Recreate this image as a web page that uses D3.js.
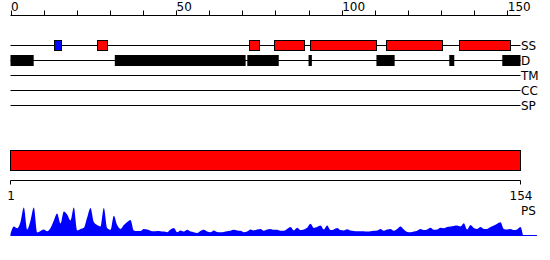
<!DOCTYPE html>
<html>
<head>
<meta charset="utf-8">
<script src="https://cdn.jsdelivr.net/npm/d3@7"></script>
<style>
  body { margin: 0; background: #fff; }
  text { font-family: "DejaVu Sans", sans-serif; font-size: 12px; fill: #000; }
</style>
</head>
<body>
<div id="chart"></div>
<script>
// sequence length and axis labels
const seqLength = 154;
const topTickLabels = [0, 50, 100, 150];
const trackNames = ["SS", "D", "TM", "CC", "SP"];

// secondary structure segments [start, end, type]
const ssStrands = [[13, 15]];
const ssHelices = [[26, 29], [72, 75], [79.5, 88.5], [90.5, 110.5], [113.5, 130.5], [135.5, 151]];

// disordered regions
const disorder = [[0, 7], [31.5, 71], [71.5, 81], [90, 91], [110.5, 116], [132.5, 134], [148.5, 154]];

// domain bar and PS profile
const domainRange = [1, 154];
const psScores = [
  0.05, 0.30, 0.24, 0.45, 0.93, 0.20, 0.50, 0.93, 0.10, 0.15,
  0.20, 0.14, 0.25, 0.50, 0.73, 0.40, 0.80, 0.70, 0.50, 0.93,
  0.17, 0.22, 0.26, 0.60, 0.92, 0.45, 0.35, 0.30, 0.92, 0.25,
  0.19, 0.66, 0.35, 0.22, 0.35, 0.45, 0.52, 0.17, 0.15, 0.15,
  0.22, 0.20, 0.16, 0.14, 0.15, 0.14, 0.13, 0.11, 0.20, 0.25,
  0.11, 0.17, 0.13, 0.19, 0.13, 0.11, 0.08, 0.15, 0.19, 0.13,
  0.11, 0.17, 0.12, 0.11, 0.12, 0.14, 0.16, 0.19, 0.17, 0.16,
  0.11, 0.13, 0.20, 0.17, 0.20, 0.22, 0.16, 0.20, 0.22, 0.19,
  0.19, 0.16, 0.16, 0.22, 0.28, 0.17, 0.26, 0.18, 0.20, 0.26,
  0.39, 0.25, 0.28, 0.33, 0.20, 0.33, 0.18, 0.20, 0.25, 0.18,
  0.17, 0.21, 0.17, 0.15, 0.14, 0.14, 0.14, 0.13, 0.14, 0.16,
  0.17, 0.22, 0.16, 0.20, 0.22, 0.16, 0.22, 0.30, 0.20, 0.12,
  0.11, 0.13, 0.16, 0.22, 0.18, 0.20, 0.26, 0.19, 0.20, 0.26,
  0.24, 0.28, 0.30, 0.32, 0.33, 0.30, 0.41, 0.20, 0.35, 0.25,
  0.22, 0.28, 0.22, 0.22, 0.28, 0.33, 0.39, 0.44, 0.22, 0.20,
  0.22, 0.18, 0.20, 0.28
];

const width = 550, height = 260;
const svg = d3.select("#chart").append("svg")
  .attr("width", width)
  .attr("height", height);

const x = d3.scaleLinear().domain([0, seqLength]).range([10.5, 520.5]);
const xRes = d3.scaleLinear().domain(domainRange).range([10.5, 520.5]);
const rowY = d3.scalePoint().domain(trackNames).range([45, 105]);

// top axis
const topAxisY = 15.5;
svg.append("line")
  .attr("x1", x(0)).attr("x2", x(seqLength))
  .attr("y1", topAxisY).attr("y2", topAxisY)
  .attr("stroke", "#000");
svg.selectAll(".tick").data(d3.range(0, seqLength + 1, 10)).enter()
  .append("line")
  .attr("x1", d => Math.round(x(d)) + 0.5).attr("x2", d => Math.round(x(d)) + 0.5)
  .attr("y1", topAxisY - 5).attr("y2", topAxisY)
  .attr("stroke", "#000");
svg.selectAll(".toplabel").data(topTickLabels).enter()
  .append("text")
  .attr("x", d => x(d) + 0.5)
  .attr("y", 11)
  .text(d => d);

// track lines and labels
trackNames.forEach(name => {
  svg.append("line")
    .attr("x1", x(0)).attr("x2", x(seqLength))
    .attr("y1", rowY(name) + 0.5).attr("y2", rowY(name) + 0.5)
    .attr("stroke", "#000");
  svg.append("text")
    .attr("x", x(seqLength) + 0.5)
    .attr("y", rowY(name) + 4.5)
    .text(name);
});

// disorder boxes
svg.selectAll(".dis").data(disorder).enter()
  .append("rect")
  .attr("x", d => x(d[0]))
  .attr("width", d => x(d[1]) - x(d[0]))
  .attr("y", rowY("D") - 5)
  .attr("height", 11)
  .attr("fill", "#000");

// secondary structure boxes
const ssBox = (data, color) => svg.selectAll(null).data(data).enter()
  .append("rect")
  .attr("x", d => Math.round(x(d[0])) + 0.5)
  .attr("width", d => Math.round(x(d[1]) - x(d[0])))
  .attr("y", rowY("SS") - 4.5)
  .attr("height", 10)
  .attr("fill", color)
  .attr("stroke", "#000");
ssBox(ssHelices, "#ff0000");
ssBox(ssStrands, "#0000ff");

// domain bar
svg.append("rect")
  .attr("x", xRes(domainRange[0]))
  .attr("width", xRes(domainRange[1]) - xRes(domainRange[0]))
  .attr("y", 150.5).attr("height", 20)
  .attr("fill", "#ff0000").attr("stroke", "#000");

// bottom axis
const botAxisY = 180.5;
svg.append("line")
  .attr("x1", xRes(domainRange[0])).attr("x2", xRes(domainRange[1]))
  .attr("y1", botAxisY).attr("y2", botAxisY)
  .attr("stroke", "#000");
domainRange.forEach(d => {
  svg.append("line")
    .attr("x1", xRes(d)).attr("x2", xRes(d))
    .attr("y1", botAxisY).attr("y2", botAxisY + 4)
    .attr("stroke", "#000");
  svg.append("text")
    .attr("x", xRes(d) + 0.5).attr("y", 200)
    .attr("text-anchor", "middle")
    .text(d);
});

// PS profile
const psBase = 235.5;
const yPs = d3.scaleLinear().domain([0, 1]).range([psBase, psBase - 30]);
const area = d3.area()
  .x((d, i) => xRes(i + 1))
  .y0(psBase)
  .y1(d => yPs(d))
  .curve(d3.curveMonotoneX);
svg.append("path")
  .datum(psScores.concat([0]))
  .attr("d", area.x((d, i) => i < seqLength ? xRes(i + 1) : xRes(seqLength) + 2.5))
  .attr("fill", "#0000ff");
svg.append("line")
  .attr("x1", xRes(1)).attr("x2", 537)
  .attr("y1", psBase).attr("y2", psBase)
  .attr("stroke", "#0000ff");
svg.append("text")
  .attr("x", x(seqLength) + 0.5).attr("y", 215)
  .text("PS");
</script>
</body>
</html>
